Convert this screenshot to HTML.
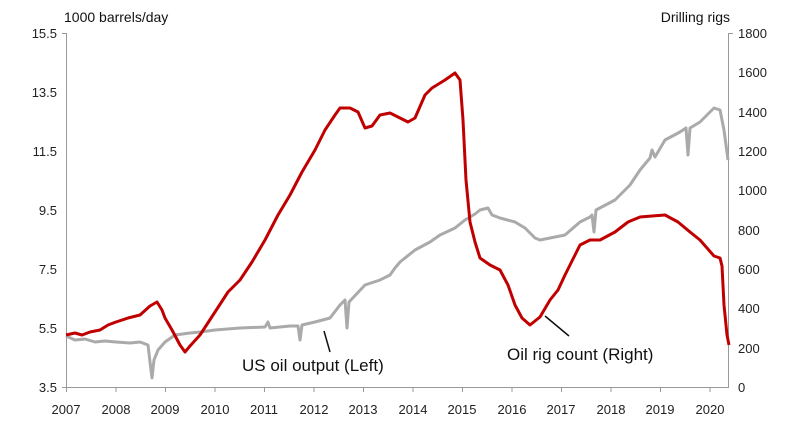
<!DOCTYPE html>
<html><head><meta charset="utf-8"><style>
body{margin:0;background:#fff;}
svg{display:block;font-family:"Liberation Sans",sans-serif;}
</style></head><body>
<svg width="810" height="438" viewBox="0 0 810 438">
<g font-size="13" fill="#222" text-anchor="end">
<text x="57" y="38">15.5</text><text x="57" y="97">13.5</text><text x="57" y="156">11.5</text>
<text x="57" y="215">9.5</text><text x="57" y="274">7.5</text><text x="57" y="333">5.5</text><text x="57" y="392">3.5</text>
</g>
<g font-size="13" fill="#222" text-anchor="start">
<text x="738" y="38">1800</text><text x="738" y="77">1600</text><text x="738" y="117">1400</text>
<text x="738" y="156">1200</text><text x="738" y="195">1000</text><text x="738" y="235">800</text>
<text x="738" y="274">600</text><text x="738" y="313">400</text><text x="738" y="353">200</text><text x="738" y="392">0</text>
</g>
<text x="64" y="22" font-size="14" fill="#111">1000 barrels/day</text>
<text x="730" y="22" font-size="14" fill="#111" text-anchor="end">Drilling rigs</text>
<g stroke="#999" stroke-width="1" fill="none">
<line x1="66.5" y1="33" x2="66.5" y2="387"/><line x1="62" y1="33.5" x2="66.5" y2="33.5"/>
<line x1="728.5" y1="33" x2="728.5" y2="387"/><line x1="728.5" y1="33.5" x2="733" y2="33.5"/>
<line x1="66" y1="387.5" x2="729" y2="387.5"/>
<line x1="62" y1="387.5" x2="66" y2="387.5"/>
</g>
<g stroke="#999" stroke-width="1" id="ticks">
<line x1="66.5" y1="387" x2="66.5" y2="392"/><line x1="116" y1="387" x2="116" y2="392"/><line x1="165.5" y1="387" x2="165.5" y2="392"/>
<line x1="215" y1="387" x2="215" y2="392"/><line x1="264.5" y1="387" x2="264.5" y2="392"/><line x1="314" y1="387" x2="314" y2="392"/>
<line x1="363.5" y1="387" x2="363.5" y2="392"/><line x1="413" y1="387" x2="413" y2="392"/><line x1="462.5" y1="387" x2="462.5" y2="392"/>
<line x1="512" y1="387" x2="512" y2="392"/><line x1="561.5" y1="387" x2="561.5" y2="392"/><line x1="611" y1="387" x2="611" y2="392"/>
<line x1="660.5" y1="387" x2="660.5" y2="392"/><line x1="710" y1="387" x2="710" y2="392"/>
</g>
<g font-size="13" fill="#222" text-anchor="middle">
<text x="66" y="414">2007</text><text x="116" y="414">2008</text><text x="165" y="414">2009</text><text x="215" y="414">2010</text>
<text x="264" y="414">2011</text><text x="314" y="414">2012</text><text x="363" y="414">2013</text><text x="413" y="414">2014</text>
<text x="462" y="414">2015</text><text x="512" y="414">2016</text><text x="561" y="414">2017</text><text x="611" y="414">2018</text>
<text x="660" y="414">2019</text><text x="710" y="414">2020</text>
</g>
<polyline fill="none" stroke="#aaa" stroke-width="3" stroke-linejoin="round" points="66,336 75,340 85,339 95,342 105,341 116,342 130,343 140,342 148,345 150,362 152,378 154,360 158,350 165,342 175,335 190,333 200,332 215,330 240,328 265,327 268,322 270,328 290,326 298,326 300,340 302,325 315,322 330,318 340,305 345,300 347,328 349,302 365,285 380,280 390,275 395,268 400,262 415,250 430,242 440,235 455,228 465,220 475,214 480,210 488,208 492,215 500,218 515,222 525,228 535,238 540,240 550,238 565,235 580,222 590,217 592,215 594,232 596,210 615,200 630,185 640,170 650,158 652,150 655,157 665,140 680,132 686,128 688,155 690,128 700,122 714,108 720,110 724,130 728,160"/>
<polyline fill="none" stroke="#c00000" stroke-width="3" stroke-linejoin="round" points="66,335 75,333 82,335 90,332 100,330 108,325 116,322 128,318 140,315 150,306 157,302 162,310 165,318 172,330 180,345 185,352 190,346 200,335 215,312 228,292 240,280 252,262 265,240 278,215 290,195 302,172 315,150 325,130 335,115 340,108 350,108 358,112 365,128 372,126 380,115 390,113 400,118 408,122 415,118 425,95 432,88 445,80 455,73 460,80 463,120 466,180 470,222 475,242 480,258 490,265 500,270 508,285 515,305 522,318 530,325 540,317 550,300 558,290 565,275 575,255 580,245 590,240 600,240 615,232 628,222 640,217 652,216 665,215 678,222 690,232 700,240 714,256 720,258 722,266 724,305 727,335 729,345"/>
<line x1="324" y1="331" x2="330" y2="352" stroke="#111" stroke-width="1.5"/>
<line x1="545" y1="316" x2="569" y2="336" stroke="#111" stroke-width="1.5"/>
<text x="242" y="371" font-size="17" fill="#111">US oil output (Left)</text>
<text x="507" y="360" font-size="17" fill="#111">Oil rig count (Right)</text>
</svg>
</body></html>
